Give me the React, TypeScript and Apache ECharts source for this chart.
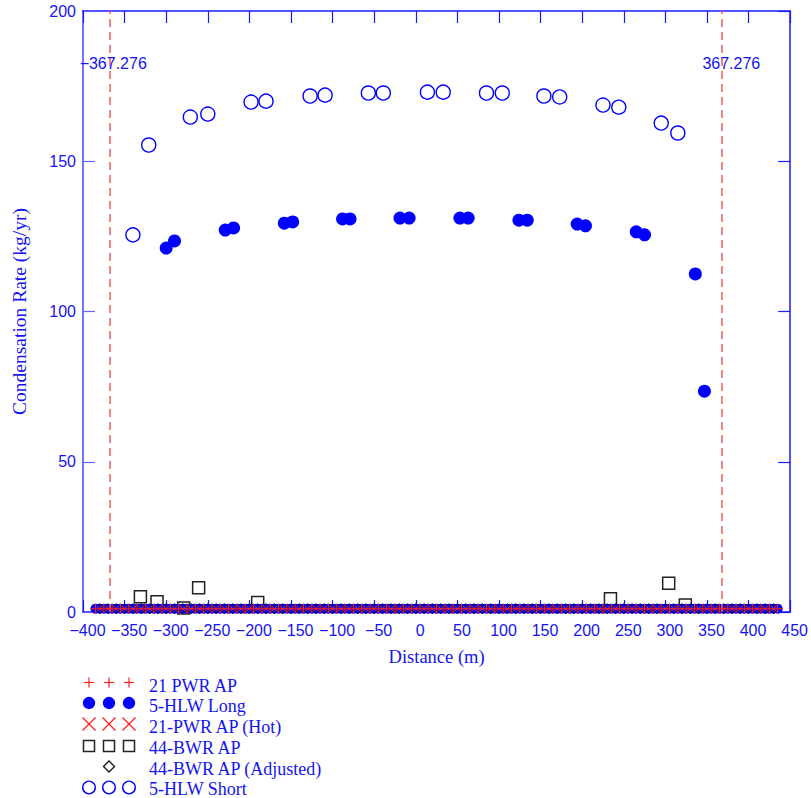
import React, { useEffect, useRef } from 'react';
import * as echarts from 'echarts';

// ---- data ----
const hlwShortX = [-340, -321, -271, -250, -198, -180, -127, -109, -57, -39, 14, 33, 85, 104, 154, 173, 225, 244, 295, 315];
const hlwShortY = [125.5, 155.4, 164.7, 165.7, 169.7, 170, 171.7, 172, 172.7, 172.7, 173, 173, 172.7, 172.7, 171.7, 171.4, 168.7, 168, 162.7, 159.4];
const hlwLongX = [-300, -290, -229, -219, -158, -148, -88, -79, -19, -8, 53, 63, 124, 134, 194, 204, 265, 275, 336, 347];
const hlwLongY = [121.1, 123.5, 127.1, 127.8, 129.4, 129.8, 130.8, 130.8, 131.1, 131.1, 131.1, 131.1, 130.4, 130.4, 129.1, 128.5, 126.5, 125.5, 112.5, 73.5];
const bwrX = [-331, -311, -279, -261, -190, 234, 304, 324];
const bwrY = [5.1, 3.4, 1.3, 8.1, 3.2, 4.4, 9.6, 2.3];
// dense row of near-zero values along the bottom
const bandX = [-385, -375, -365, -355, -345, -335, -325, -315, -305, -295, -285, -275, -265, -255, -245, -235, -225, -215, -205, -195, -185, -175, -165, -155, -145, -135, -125, -115, -105, -95, -85, -75, -65, -55, -45, -35, -25, -15, -5, 5, 15, 25, 35, 45, 55, 65, 75, 85, 95, 105, 115, 125, 135, 145, 155, 165, 175, 185, 195, 205, 215, 225, 235, 245, 255, 265, 275, 285, 295, 305, 315, 325, 335, 345, 355, 365, 375, 385, 395, 405, 415, 425, 435];
const bandX2 = [-380, -370, -360, -350, -340, -330, -320, -310, -300, -290, -280, -270, -260, -250, -240, -230, -220, -210, -200, -190, -180, -170, -160, -150, -140, -130, -120, -110, -100, -90, -80, -70, -60, -50, -40, -30, -20, -10, 0, 10, 20, 30, 40, 50, 60, 70, 80, 90, 100, 110, 120, 130, 140, 150, 160, 170, 180, 190, 200, 210, 220, 230, 240, 250, 260, 270, 280, 290, 300, 310, 320, 330, 340, 350, 360, 370, 380, 390, 400, 410, 420, 430];
const bandLevel = 1.1;
const guideX = [-367.276, 367.276];
const guideLabelY = 182.5;
const legendNames = ['21 PWR AP', '5-HLW Long', '21-PWR AP (Hot)', '44-BWR AP', '44-BWR AP (Adjusted)', '5-HLW Short'];

const BLUE = '#0000ff';
const TXT = '#1414f0';
const RED = '#ff1f1f';
const SANS = '"Liberation Sans", Arial, sans-serif';
const SERIF = '"Liberation Serif", "Times New Roman", serif';
const PLUS = 'path://M5,0L5,10M0,5L10,5';
const CROSS = 'path://M0,0L10,10M10,0L0,10';

const zip = (xs: number[], ys: number[]) => xs.map((x, i) => [x, ys[i]]);
const fmt = (v: number) => String(v).replace('-', '\u2212');

export default function App() {
  const ref = useRef<HTMLDivElement>(null);
  useEffect(() => {
    document.body.style.margin = '0';
    const chart = echarts.init(ref.current!, null, { renderer: 'svg' });

    const cols = [89, 109, 129];
    const rowY = [682.5, 703, 724, 746, 766.5, 787.5];
    const textY = [685.7, 706.4, 727.4, 748.2, 768.8, 789.3];
    const g: any[] = [];
    cols.forEach((cx) => {
      g.push({ type: 'line', shape: { x1: cx - 5, y1: rowY[0], x2: cx + 5, y2: rowY[0] }, style: { stroke: RED, lineWidth: 1.2 } });
      g.push({ type: 'line', shape: { x1: cx, y1: rowY[0] - 5, x2: cx, y2: rowY[0] + 5 }, style: { stroke: RED, lineWidth: 1.2 } });
      g.push({ type: 'circle', shape: { cx, cy: rowY[1], r: 6.2 }, style: { fill: BLUE } });
      g.push({ type: 'line', shape: { x1: cx - 6.5, y1: rowY[2] - 6.5, x2: cx + 6.5, y2: rowY[2] + 6.5 }, style: { stroke: RED, lineWidth: 1.3 } });
      g.push({ type: 'line', shape: { x1: cx + 6.5, y1: rowY[2] - 6.5, x2: cx - 6.5, y2: rowY[2] + 6.5 }, style: { stroke: RED, lineWidth: 1.3 } });
      g.push({ type: 'rect', shape: { x: cx - 5.5, y: rowY[3] - 5.5, width: 11, height: 11 }, style: { fill: '#fff', stroke: '#222', lineWidth: 1.5 } });
      g.push({ type: 'circle', shape: { cx, cy: rowY[5], r: 6.3 }, style: { fill: '#fff', stroke: BLUE, lineWidth: 1.4 } });
    });
    g.push({ type: 'polygon', shape: { points: [[109, rowY[4] - 5.5], [114.5, rowY[4]], [109, rowY[4] + 5.5], [103.5, rowY[4]]] }, style: { fill: '#fff', stroke: '#111', lineWidth: 1.3 } });
    legendNames.forEach((n, i) => {
      g.push({ type: 'text', x: 149, y: textY[i], style: { text: n, fill: TXT, fontSize: 18, fontFamily: SERIF, verticalAlign: 'middle', align: 'left' } });
    });

    const option: any = {
      animation: false,
      backgroundColor: '#fff',
      grid: { left: 83, right: 20, top: 11, bottom: 186 },
      xAxis: [
        {
          type: 'value', min: -400, max: 450, interval: 50, position: 'bottom',
          name: 'Distance (m)', nameLocation: 'middle', nameGap: 35,
          nameTextStyle: { color: TXT, fontSize: 18.5, fontFamily: SERIF },
          axisLine: { show: true, onZero: false, lineStyle: { color: '#1a1aff', width: 1.5 } },
          axisTick: { show: true, inside: true, length: 12, lineStyle: { color: '#1a1aff', width: 1.2 } },
          axisLabel: { color: TXT, fontSize: 16, fontFamily: SANS, margin: 10, padding: [0, 0, 0, 9], formatter: fmt },
          splitLine: { show: false },
        },
        {
          type: 'value', min: -400, max: 450, interval: 50, position: 'top',
          axisLine: { show: true, onZero: false, lineStyle: { color: '#1a1aff', width: 1.5 } },
          axisTick: { show: true, inside: true, length: 12, lineStyle: { color: '#1a1aff', width: 1.2 } },
          axisLabel: { show: false },
          splitLine: { show: false },
        },
      ],
      yAxis: [
        {
          type: 'value', min: 0, max: 200, interval: 50, position: 'left',
          name: 'Condensation Rate (kg/yr)', nameLocation: 'middle', nameGap: 54,
          nameTextStyle: { color: TXT, fontSize: 19.5, fontFamily: SERIF },
          axisLine: { show: true, onZero: false, lineStyle: { color: '#6464ff', width: 1.8 } },
          axisTick: { show: true, inside: true, length: 12, lineStyle: { color: '#6464ff', width: 1.2 } },
          axisLabel: { color: TXT, fontSize: 16, fontFamily: SANS, margin: 7, padding: [8, 0, 0, 0], formatter: fmt },
          splitLine: { show: false },
        },
        {
          type: 'value', min: 0, max: 200, interval: 50, position: 'right',
          axisLine: { show: true, onZero: false, lineStyle: { color: '#1a1aff', width: 1.5 } },
          axisTick: { show: true, inside: true, length: 12, lineStyle: { color: '#1a1aff', width: 1.2 } },
          axisLabel: { show: false },
          splitLine: { show: false },
        },
      ],
      graphic: g,
      series: [
        {
          name: '44-BWR AP', type: 'scatter', z: 2,
          data: zip(bwrX, bwrY), symbol: 'rect', symbolSize: 12,
          itemStyle: { color: '#fff', borderColor: '#222', borderWidth: 1.5, opacity: 1 },
        },
        {
          name: '5-HLW Long', type: 'scatter', z: 3, symbol: 'circle',
          data: [
            ...zip(hlwLongX, hlwLongY).map((v) => ({ value: v, symbolSize: 13 })),
            ...bandX.map((x) => ({ value: [x, bandLevel], symbolSize: 10 })),
            ...bandX2.map((x) => ({ value: [x, bandLevel], symbolSize: 10 })),
          ],
          itemStyle: { color: BLUE, opacity: 1 },
        },
        {
          name: '44-BWR AP (Adjusted)', type: 'scatter', z: 4, symbol: 'diamond', symbolSize: 10,
          data: bandX2.map((x) => [x, bandLevel]),
          itemStyle: { color: 'rgba(0,0,0,0)', borderColor: '#111', borderWidth: 1, opacity: 1 },
        },
        {
          name: '21-PWR AP (Hot)', type: 'scatter', z: 4, symbol: CROSS, symbolSize: 6,
          data: bandX2.map((x) => [x, bandLevel]),
          itemStyle: { color: 'rgba(0,0,0,0)', borderColor: RED, borderWidth: 1, opacity: 1 },
        },
        {
          name: '21 PWR AP', type: 'scatter', z: 5, symbol: PLUS, symbolSize: 10,
          data: bandX.map((x) => [x, bandLevel]),
          itemStyle: { color: 'rgba(0,0,0,0)', borderColor: RED, borderWidth: 1, opacity: 1 },
          markLine: {
            silent: true, symbol: 'none', animation: false,
            lineStyle: { type: [8, 5], color: '#f25c5c', width: 1.5 },
            label: { show: false },
            data: guideX.map((x) => ({ xAxis: x })),
          },
          markPoint: {
            silent: true, animation: false,
            data: guideX.map((x, i) => ({
              coord: [x, guideLabelY], symbol: 'circle', symbolSize: 0,
              label: {
                show: true, position: 'inside', formatter: fmt(x), color: TXT,
                fontSize: 16, fontFamily: SANS, offset: [i === 0 ? 3 : 10, 0],
              },
            })),
          },
        },
        {
          name: '5-HLW Short', type: 'scatter', z: 6, symbol: 'circle', symbolSize: 14,
          data: zip(hlwShortX, hlwShortY),
          itemStyle: { color: 'rgba(0,0,0,0)', borderColor: BLUE, borderWidth: 1.4, opacity: 1 },
        },
      ],
    };
    chart.setOption(option);
    return () => chart.dispose();
  }, []);
  return <div ref={ref} style={{ width: 811, height: 798 }} />;
}
